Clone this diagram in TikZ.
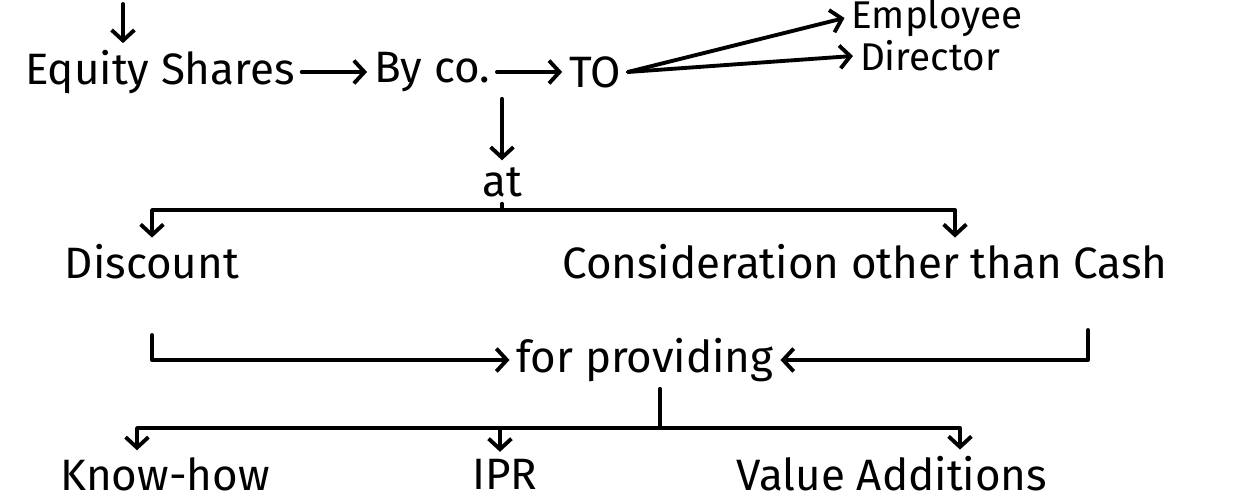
\documentclass[tikz,border=0pt]{standalone}
\usepackage{fontspec}
\setmainfont{Fira Sans}
\usetikzlibrary{arrows.meta,calc}
\tikzset{
  lbl/.style={inner sep=1pt, outer sep=3pt, font=\fontsize{25}{28}\selectfont},
  slbl/.style={lbl, font=\fontsize{22}{25}\selectfont},
  conn/.style={line width=2.2pt, line cap=round, line join=round},
  arr/.style={conn, -{Straight Barb[length=6pt,width=13pt,line width=2.2pt]}},
  darr/.style={conn, {Straight Barb[length=6pt,width=13pt,line width=2.2pt]}-{Straight Barb[length=6pt,width=13pt,line width=2.2pt]}}
}
\begin{document}
\begin{tikzpicture}[x=0.02cm,y=-0.02cm]
\useasboundingbox (0,0) rectangle (1245,503);
% nodes
\node[lbl] (eq) at (160,72) {Equity Shares};
\node[lbl] (byco) at (432,72) {By co.};
\node[lbl] (to) at (595,72) {TO};
\node[slbl] (emp) at (937,18) {Employee};
\node[slbl] (dir) at (930,56) {Director};
\node[lbl] (at) at (502,182) {at};
\node[lbl] (disc) at (152,262) {Discount};
\node[lbl] (cons) at (865,262) {Consideration other than Cash};
\node[lbl] (fp) at (645,360) {for providing};
\node[lbl] (kh) at (165,474) {Know-how};
\node[lbl] (ipr) at (505,474) {IPR};
\node[lbl] (va) at (892,474) {Value Additions};
% coordinates
\coordinate (top) at (123,4);
\coordinate (b1) at (152,210);
\coordinate (b2) at (955,210);
\coordinate (d0) at (152,335);
\coordinate (c0) at (1088,330);
\coordinate (k1) at (137,428);
\coordinate (k2) at (500,428);
\coordinate (k3) at (960,428);
\coordinate (kf) at (660,428);
% connectors
\draw[arr] (top) -- (top |- eq.north);
\draw[arr] (eq) -- (byco);
\draw[arr] (byco) -- (to);
\draw[arr] (to.east) -- (emp.west);
\draw[arr] (to.east) -- (dir.west);
\draw[arr] (at.north |- byco.south) -- (at.north);
\draw[conn] (at.south) -- (at.south |- b1);
\draw[darr] (disc.north -| b1) |- (b2) -- (cons.north -| b2);
\draw[arr] (d0) |- (fp.west);
\draw[arr] (c0) |- (fp.east);
\draw[conn] (kf |- fp.south) -- (kf);
\draw[arr] (kf) -- (k1) -- (kh.north -| k1);
\draw[arr] (k2) -- (ipr.north -| k2);
\draw[arr] (kf) -- (k3) -- (va.north -| k3);
\end{tikzpicture}
\end{document}
